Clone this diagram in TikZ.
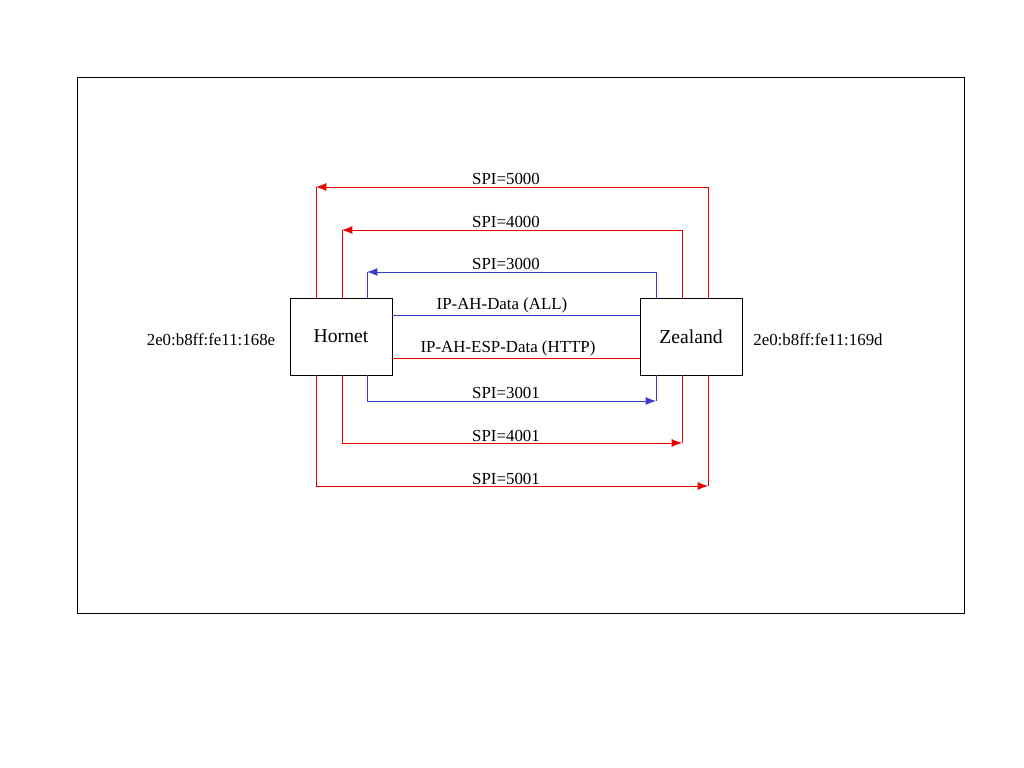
\documentclass[tikz,border=0pt]{standalone}
\usepackage{fontspec}
\setmainfont{Liberation Serif}
\usetikzlibrary{arrows.meta}
\usetikzlibrary{calc}

\definecolor{spired}{RGB}{235,0,0}
\definecolor{spiblue}{RGB}{60,60,205}

\begin{document}
\begin{tikzpicture}[>/.tip={Latex[length=2.6mm,width=2mm]},line width=0.6pt,
	host/.style={draw,line width=0.5pt,minimum width=2.55cm,minimum height=1.925cm,font=\fontsize{14}{16}\selectfont},
	lbl/.style={inner sep=1pt,anchor=south,font=\fontsize{12}{14}\selectfont},
	addr/.style={font=\fontsize{12}{14}\selectfont}]
	\useasboundingbox (0,0) rectangle (25.6,19.2);
	\draw[line width=0.5pt] (1.925,3.875) rectangle (24.1,17.275);
	\draw (8.525,10.7875) node (hornet) [host] {Hornet};
	\draw (17.275,10.7875) node (zealand) [host] {Zealand};
	\node (haddr) [addr] at (5.275,10.7) {2e0:b8ff:fe11:168e};
	\node (zaddr) [addr] at (20.45,10.7) {2e0:b8ff:fe11:169d};
	% corners of the SA loops
	\coordinate (l5000) at (7.9,14.525);  \coordinate (r5000) at (17.7,14.525);
	\coordinate (l4000) at (8.55,13.45);  \coordinate (r4000) at (17.05,13.45);
	\coordinate (l3000) at (9.175,12.4);  \coordinate (r3000) at (16.4,12.4);
	\coordinate (l3001) at (9.175,9.175); \coordinate (r3001) at (16.4,9.175);
	\coordinate (l4001) at (8.55,8.125);  \coordinate (r4001) at (17.05,8.125);
	\coordinate (l5001) at (7.9,7.05);    \coordinate (r5001) at (17.7,7.05);
	% zealand to hornet
	\draw[spired,->] (zealand.north -| r5000) -- (r5000) -- (l5000);
	\draw[spired] (l5000) -- (hornet.north -| l5000);
	\draw[spired,->] (zealand.north -| r4000) -- (r4000) -- (l4000);
	\draw[spired] (l4000) -- (hornet.north -| l4000);
	\draw[spiblue,->] (zealand.north -| r3000) -- (r3000) -- (l3000);
	\draw[spiblue] (l3000) -- (hornet.north -| l3000);
	% hornet to zealand
	\draw[spiblue,->] (hornet.south -| l3001) -- (l3001) -- (r3001);
	\draw[spiblue] (r3001) -- (zealand.south -| r3001);
	\draw[spired,->] (hornet.south -| l4001) -- (l4001) -- (r4001);
	\draw[spired] (r4001) -- (zealand.south -| r4001);
	\draw[spired,->] (hornet.south -| l5001) -- (l5001) -- (r5001);
	\draw[spired] (r5001) -- (zealand.south -| r5001);
	% data flows
	\path[spiblue] (hornet.east |- 0,11.325) edge (zealand.west |- 0,11.325);
	\path[spired] (hornet.east |- 0,10.25) edge (zealand.west |- 0,10.25);
	\node (t5000) [lbl] at (12.65,14.525) {SPI=5000};
	\node (t4000) [lbl] at (12.65,13.45) {SPI=4000};
	\node (t3000) [lbl] at (12.65,12.4) {SPI=3000};
	\node (tall) [lbl] at (12.55,11.325) {IP-AH-Data (ALL)};
	\node (thttp) [lbl] at (12.7,10.25) {IP-AH-ESP-Data (HTTP)};
	\node (t3001) [lbl] at (12.65,9.175) {SPI=3001};
	\node (t4001) [lbl] at (12.65,8.125) {SPI=4001};
	\node (t5001) [lbl] at (12.65,7.05) {SPI=5001};
\end{tikzpicture}
\end{document}
